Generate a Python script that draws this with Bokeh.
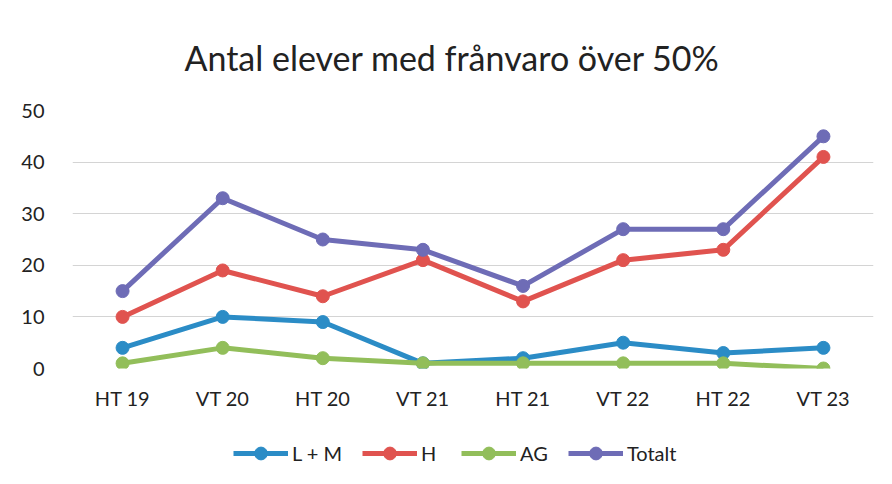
from bokeh.plotting import figure
from bokeh.layouts import column
from bokeh.models import (ColumnDataSource, FixedTicker, Legend, LegendItem, Range1d)
from bokeh.embed import file_html
from bokeh.resources import INLINE

categories = ["HT 19", "VT 20", "HT 20", "VT 21", "HT 21", "VT 22", "HT 22", "VT 23"]
lm = [4, 10, 9, 1, 2, 5, 3, 4]
h = [10, 19, 14, 21, 13, 21, 23, 41]
ag = [1, 4, 2, 1, 1, 1, 1, 0]
totalt = [15, 33, 25, 23, 16, 27, 27, 45]
series_names = ["L + M", "H", "AG", "Totalt"]
colors = ["#2B8CC6", "#E0534F", "#92BE5A", "#6E6CB6"]
y_ticks = [0, 10, 20, 30, 40, 50]

FONT = "Lato"
TXT = "#222222"

src = ColumnDataSource(dict(cat=categories, lm=lm, h=h, ag=ag, totalt=totalt))

p = figure(width=884, height=430, x_range=categories, y_range=Range1d(0, 50),
           output_backend="svg", toolbar_location=None,
           min_border_left=72, min_border_right=11, min_border_top=110, min_border_bottom=62,
           title="Antal elever med frånvaro över 50%")
p.outline_line_color = None
p.background_fill_color = "white"
p.border_fill_color = "white"

p.title.align = "left"
p.title.offset = 112
p.title.text_font = FONT
p.title.text_font_size = "34px"
p.title.text_font_style = "normal"
p.title.text_color = TXT
p.title.standoff = 65

p.xgrid.grid_line_color = None
p.ygrid.grid_line_color = "#D4D4D4"
p.ygrid.grid_line_width = 1
p.yaxis.ticker = FixedTicker(ticks=y_ticks)
for ax in (p.xaxis[0], p.yaxis[0]):
    ax.axis_line_color = None
    ax.major_tick_line_color = None
    ax.minor_tick_line_color = None
    ax.major_label_text_font = FONT
    ax.major_label_text_font_size = "20px"
    ax.major_label_text_color = TXT
p.yaxis.major_label_standoff = 22
p.xaxis.major_label_standoff = 11

keys = ["lm", "h", "ag", "totalt"]
for key, col in zip(keys, colors):
    p.line("cat", key, source=src, line_color=col, line_width=5)
    p.scatter("cat", key, source=src, size=13, fill_color=col, line_color=col)

# legend strip below the chart
lf = figure(width=884, height=46, x_range=Range1d(0, 1), y_range=Range1d(0, 1),
            output_backend="svg", toolbar_location=None,
            min_border_left=0, min_border_right=0, min_border_top=0, min_border_bottom=0)
lf.axis.visible = False
lf.grid.visible = False
lf.outline_line_color = None
lf.border_fill_color = "white"
offscreen = ColumnDataSource(dict(x=[-10], y=[-10]))
items = []
for name, col in zip(series_names, colors):
    r1 = lf.line("x", "y", source=offscreen, line_color=col, line_width=5)
    r2 = lf.scatter("x", "y", source=offscreen, size=13, fill_color=col, line_color=col)
    items.append(LegendItem(label=name, renderers=[r1, r2]))

legend = Legend(items=items, orientation="horizontal", location=(161, 7),
                glyph_width=55, glyph_height=32, label_text_font=FONT,
                label_text_font_size="20px", label_text_color=TXT,
                spacing=20, label_standoff=4, border_line_color=None,
                background_fill_alpha=0, padding=0, margin=0)
lf.add_layout(legend, "center")

layout = column(p, lf, spacing=0)
open("out.html", "w").write(file_html(layout, INLINE))
